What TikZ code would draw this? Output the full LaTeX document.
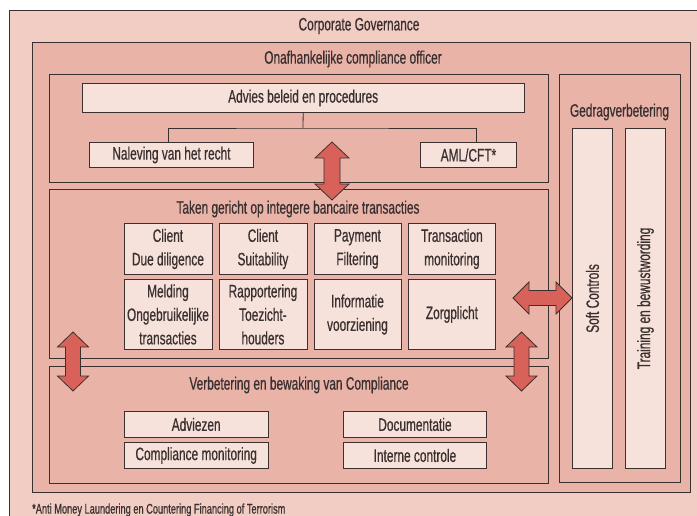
\documentclass[tikz,border=0pt]{standalone}
\usepackage{fontspec}
\setmainfont{Liberation Sans}[FakeStretch=0.66,FakeBold=0.6]
\definecolor{outerpink}{HTML}{F2CDC4}
\definecolor{midpink}{HTML}{E9B3A8}
\definecolor{boxwhite}{HTML}{F7E2DB}
\definecolor{arrowred}{HTML}{D8625A}
\definecolor{linec}{HTML}{3A3030}
\newcommand\myvarrow[6]{% x, ytop, ybottom, half head, half shaft, head length
  \fill[arrowred,draw=linec,line width=0.8pt,line join=miter]
    (#1,#2) -- ({#1+#4},{#2+#6}) -- ({#1+#5},{#2+#6}) -- ({#1+#5},{#3-#6}) -- ({#1+#4},{#3-#6}) -- (#1,#3)
    -- ({#1-#4},{#3-#6}) -- ({#1-#5},{#3-#6}) -- ({#1-#5},{#2+#6}) -- ({#1-#4},{#2+#6}) -- cycle;}
\newcommand\myharrow[6]{% y, xleft, xright, half head, half shaft, head length
  \fill[arrowred,draw=linec,line width=0.8pt,line join=miter]
    (#2,#1) -- ({#2+#6},{#1-#4}) -- ({#2+#6},{#1-#5}) -- ({#3-#6},{#1-#5}) -- ({#3-#6},{#1-#4}) -- (#3,#1)
    -- ({#3-#6},{#1+#4}) -- ({#3-#6},{#1+#5}) -- ({#2+#6},{#1+#5}) -- ({#2+#6},{#1+#4}) -- cycle;}
\begin{document}
\begin{tikzpicture}[x=1pt,y=-1pt,
  every node/.style={font=\fontsize{18}{23.5}\selectfont, text=linec},
  frame/.style={draw=linec, line width=0.9pt, inner sep=0pt, anchor=north west},
  region/.style={frame, fill=midpink},
  wbox/.style={frame, fill=boxwhite, align=center},
  label/.style={inner sep=0pt, anchor=center},
  conn/.style={draw=linec, line width=0.8pt}]
\useasboundingbox (0,0) rectangle (697,516);
\fill[white] (0,0) rectangle (697,516);
\begin{scope}
\clip (0,0) rectangle (697,516);
\node[frame, fill=outerpink, minimum width=711pt, minimum height=530pt] (cg) at (9,10) {};
\end{scope}
\node[label] (cglab) at (359,26) {Corporate Governance};
\node[region, minimum width=658pt, minimum height=450pt] (onaf) at (32,42) {};
\node[label] (onaflab) at (353,59) {Onafhankelijke compliance officer};
% top region
\node[region, minimum width=498.5pt, minimum height=108.5pt] (topr) at (49,74) {};
\node[wbox, minimum width=441.5pt, minimum height=29pt] (adv) at (82,83) {Advies beleid en procedures};
\node[wbox, minimum width=164pt, minimum height=25pt] (nal) at (89,142) {Naleving van het recht};
\node[wbox, minimum width=96pt, minimum height=25pt] (aml) at (420,142) {AML/CFT*};
\coordinate (junc) at (303,128);
\draw[conn] (adv.south) -- (junc);
\draw[conn] ([xshift=-3pt]nal.north) |- (junc) -| ([xshift=7.5pt]aml.north);
% gedrag
\node[region, minimum width=121pt, minimum height=408pt] (gedrag) at (559,74) {};
\node[label] (gedraglab) at (619.5,112) {Gedragverbetering};
\node[wbox, minimum width=40pt, minimum height=340pt] (soft) at (572,128) {};
\node[wbox, minimum width=40pt, minimum height=340pt] (train) at (625,128) {};
\node[label, rotate=90] (softlab) at (soft.center) {Soft Controls};
\node[label, rotate=90] (trainlab) at (train.center) {Training en bewustwording};
% taken
\node[region, minimum width=498.5pt, minimum height=169pt] (taken) at (49,189) {};
\node[label] (takenlab) at (298,209) {Taken gericht op integere bancaire transacties};
\node[wbox, minimum width=88pt, minimum height=51pt] (g11) at (123.5,223) {Client\\Due diligence};
\node[wbox, minimum width=88pt, minimum height=51pt] (g12) at (218.5,223) {Client\\Suitability};
\node[wbox, minimum width=87pt, minimum height=51pt] (g13) at (313.5,223) {Payment\\Filtering};
\node[wbox, minimum width=87pt, minimum height=51pt] (g14) at (408,223) {Transaction\\monitoring};
\node[wbox, minimum width=88pt, minimum height=70pt] (g21) at (123.5,279) {Melding\\Ongebruikelijke\\transacties};
\node[wbox, minimum width=88pt, minimum height=70pt] (g22) at (218.5,279) {Rapportering\\Toezicht-\\houders};
\node[wbox, minimum width=87pt, minimum height=70pt] (g23) at (313.5,279) {Informatie\\voorziening};
\node[wbox, minimum width=87pt, minimum height=70pt] (g24) at (408,279) {Zorgplicht};
% verbetering
\node[region, minimum width=498.5pt, minimum height=117pt] (verb) at (49,366) {};
\node[label] (verblab) at (299,385) {Verbetering en bewaking van Compliance};
\node[wbox, minimum width=143.5pt, minimum height=26pt] (adviezen) at (124,411) {Adviezen};
\node[wbox, minimum width=143.5pt, minimum height=26pt] (compmon) at (124,442) {Compliance monitoring};
\node[wbox, minimum width=143pt, minimum height=26pt] (doc) at (343,411) {Documentatie};
\node[wbox, minimum width=143pt, minimum height=26pt] (intern) at (343,442) {Interne controle};
% arrows
\myvarrow{332}{142}{200}{17}{8}{16}
\myvarrow{73}{332}{391}{15.5}{7.5}{15}
\myvarrow{521.5}{332}{391}{15.5}{7.5}{15}
\myharrow{298}{513}{572}{16}{7.5}{16}
% footnote
\node[label, anchor=west, font=\fontsize{14}{15}\selectfont] (foot) at (32,510) {*Anti Money Laundering en Countering Financing of Terrorism};
\end{tikzpicture}
\end{document}
